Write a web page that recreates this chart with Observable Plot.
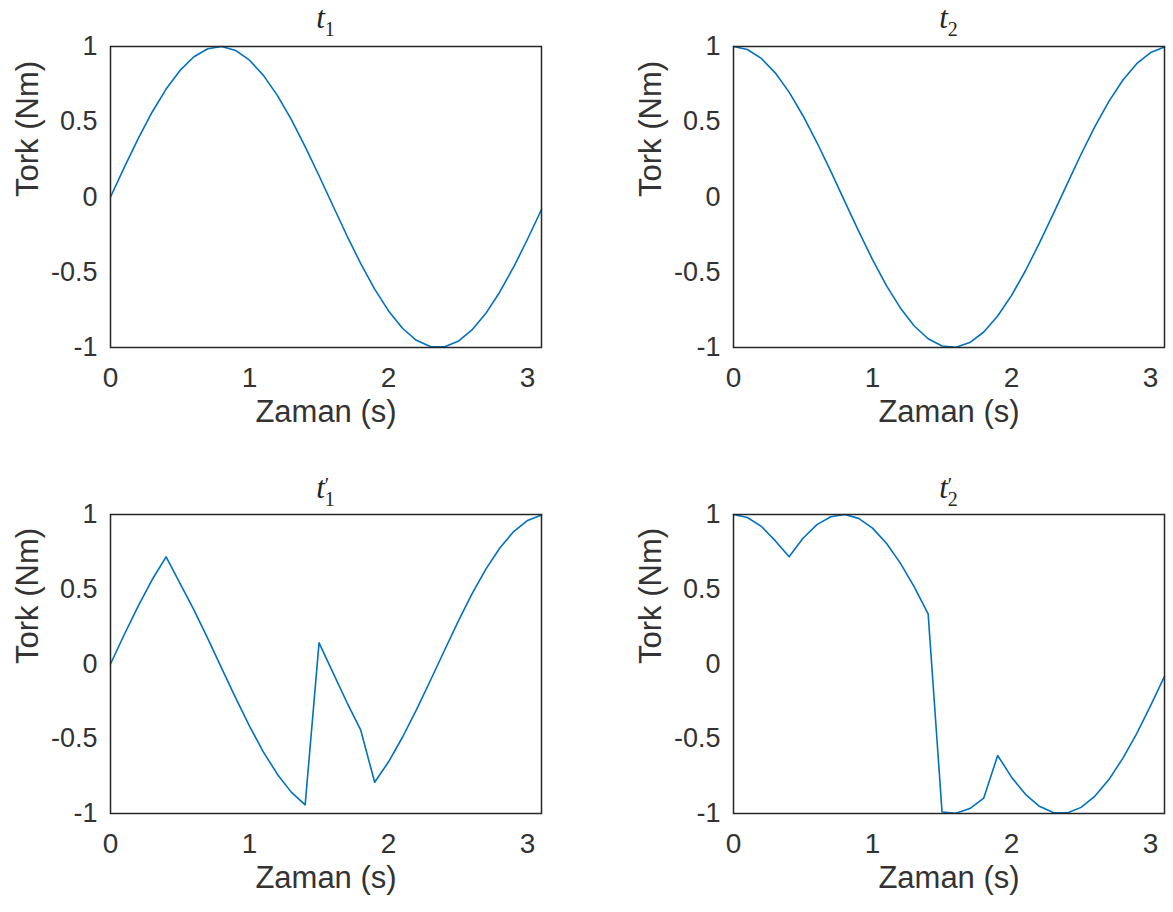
<!DOCTYPE html>
<html>
<head>
<meta charset="utf-8">
<script src="https://cdn.jsdelivr.net/npm/d3@7"></script>
<script src="https://cdn.jsdelivr.net/npm/@observablehq/plot@0.6"></script>
<style>
  html, body { margin: 0; padding: 0; background: #fff; }
  #root { position: relative; width: 1173px; height: 912px; overflow: hidden; }
  .panel { position: absolute; }
  .title { position: absolute; font-family: "Liberation Serif", "DejaVu Serif", serif; font-style: italic; font-size: 31px; color: #262626; text-align: center; width: 200px; line-height: 1; }
  .title .stk { display: inline-block; vertical-align: top; margin-top: 6px; font-size: 20px; font-style: normal; line-height: 14px; white-space: pre; text-align: left; }
</style>
</head>
<body>
<div id="root"></div>
<script>
// Sample times (s)
const time = [0, 0.1, 0.2, 0.3, 0.4, 0.5, 0.6, 0.7, 0.8, 0.9, 1.0, 1.1, 1.2, 1.3, 1.4, 1.5,
              1.6, 1.7, 1.8, 1.9, 2.0, 2.1, 2.2, 2.3, 2.4, 2.5, 2.6, 2.7, 2.8, 2.9, 3.0, 3.1];

// Torque series (Nm)
const t1 = [0, 0.199, 0.389, 0.565, 0.717, 0.841, 0.932, 0.985, 1.000, 0.974, 0.909, 0.808, 0.675, 0.516, 0.335, 0.141,
            -0.058, -0.256, -0.443, -0.612, -0.757, -0.872, -0.952, -0.994, -0.996, -0.959, -0.883, -0.773, -0.631, -0.465, -0.279, -0.083];
const t2 = [1.000, 0.980, 0.921, 0.825, 0.697, 0.540, 0.362, 0.170, -0.029, -0.227, -0.416, -0.589, -0.737, -0.857, -0.942, -0.990,
            -0.998, -0.967, -0.897, -0.791, -0.654, -0.490, -0.307, -0.112, 0.087, 0.284, 0.469, 0.635, 0.776, 0.886, 0.960, 0.996];
const t1p = [0, 0.199, 0.389, 0.565, 0.717, 0.540, 0.362, 0.170, -0.029, -0.227, -0.416, -0.589, -0.737, -0.857, -0.942, 0.141,
             -0.058, -0.256, -0.443, -0.791, -0.654, -0.490, -0.307, -0.112, 0.087, 0.284, 0.469, 0.635, 0.776, 0.886, 0.960, 0.996];
const t2p = [1.000, 0.980, 0.921, 0.825, 0.717, 0.841, 0.932, 0.985, 1.000, 0.974, 0.909, 0.808, 0.675, 0.516, 0.335, -0.990,
             -0.998, -0.967, -0.897, -0.612, -0.757, -0.872, -0.952, -0.994, -0.996, -0.959, -0.883, -0.773, -0.631, -0.465, -0.279, -0.083];

// Labels: [base, prime, subscript]
const panelTitles = [["t", "", "1"], ["t", "", "2"], ["t", "′", "1"], ["t", "′", "2"]];
const xLabel = "Zaman (s)";
const yLabel = "Tork (Nm)";
const xTicks = [0, 1, 2, 3];
const yTicks = [-1, -0.5, 0, 0.5, 1];

const series = [t1, t2, t1p, t2p];
const layout = [
  {left: 0,   top: 0,   width: 586, height: 456, mb: 109},
  {left: 623, top: 0,   width: 585, height: 456, mb: 109},
  {left: 0,   top: 468, width: 586, height: 444, mb: 99},
  {left: 623, top: 468, width: 585, height: 444, mb: 99}
];

const ink = "#333333";
const font = "Liberation Sans, Arial, Helvetica, sans-serif";
const root = document.getElementById("root");

series.forEach((vals, i) => {
  const L = layout[i];
  const data = time.map((t, k) => ({t, v: vals[k]}));
  const chart = Plot.plot({
    width: L.width,
    height: L.height,
    marginLeft: 110,
    marginRight: L.width - 110 - 431,
    marginTop: 46,
    marginBottom: L.mb,
    style: {fontFamily: font, color: ink, background: "transparent", overflow: "visible"},
    x: {domain: [0, 3.1]},
    y: {domain: [-1, 1]},
    marks: [
      Plot.line(data, {x: "t", y: "v", stroke: "#0072BD", strokeWidth: 1.6}),
      Plot.frame({stroke: "#262626", strokeWidth: 1.5}),
      Plot.axisX({ticks: xTicks, tickSize: 0, tickPadding: 20, fontSize: 28, label: null, tickFormat: d => String(d), fill: ink}),
      Plot.axisY({ticks: yTicks, tickSize: 0, tickPadding: 13, fontSize: 27, label: null, tickFormat: d => String(d), fill: ink}),
      Plot.text([xLabel], {text: d => d, frameAnchor: "bottom", dy: 74, fontSize: 31, fill: ink}),
      Plot.text([yLabel], {text: d => d, frameAnchor: "left", dx: -82, rotate: -90, fontSize: 31, fill: ink})
    ]
  });
  chart.classList.add("panel");
  chart.style.left = L.left + "px";
  chart.style.top = L.top + "px";
  root.appendChild(chart);

  const [base, prime, sub] = panelTitles[i];
  const title = document.createElement("div");
  title.className = "title";
  const cx = L.left + 110 + 431 / 2;
  title.style.left = (cx - 100) + "px";
  title.style.top = (L.top + (i < 2 ? 2 : 4)) + "px";
  title.appendChild(document.createTextNode(base));
  const stk = document.createElement("span");
  stk.className = "stk";
  stk.textContent = prime + "\n" + sub;
  title.appendChild(stk);
  root.appendChild(title);
});
</script>
</body>
</html>
